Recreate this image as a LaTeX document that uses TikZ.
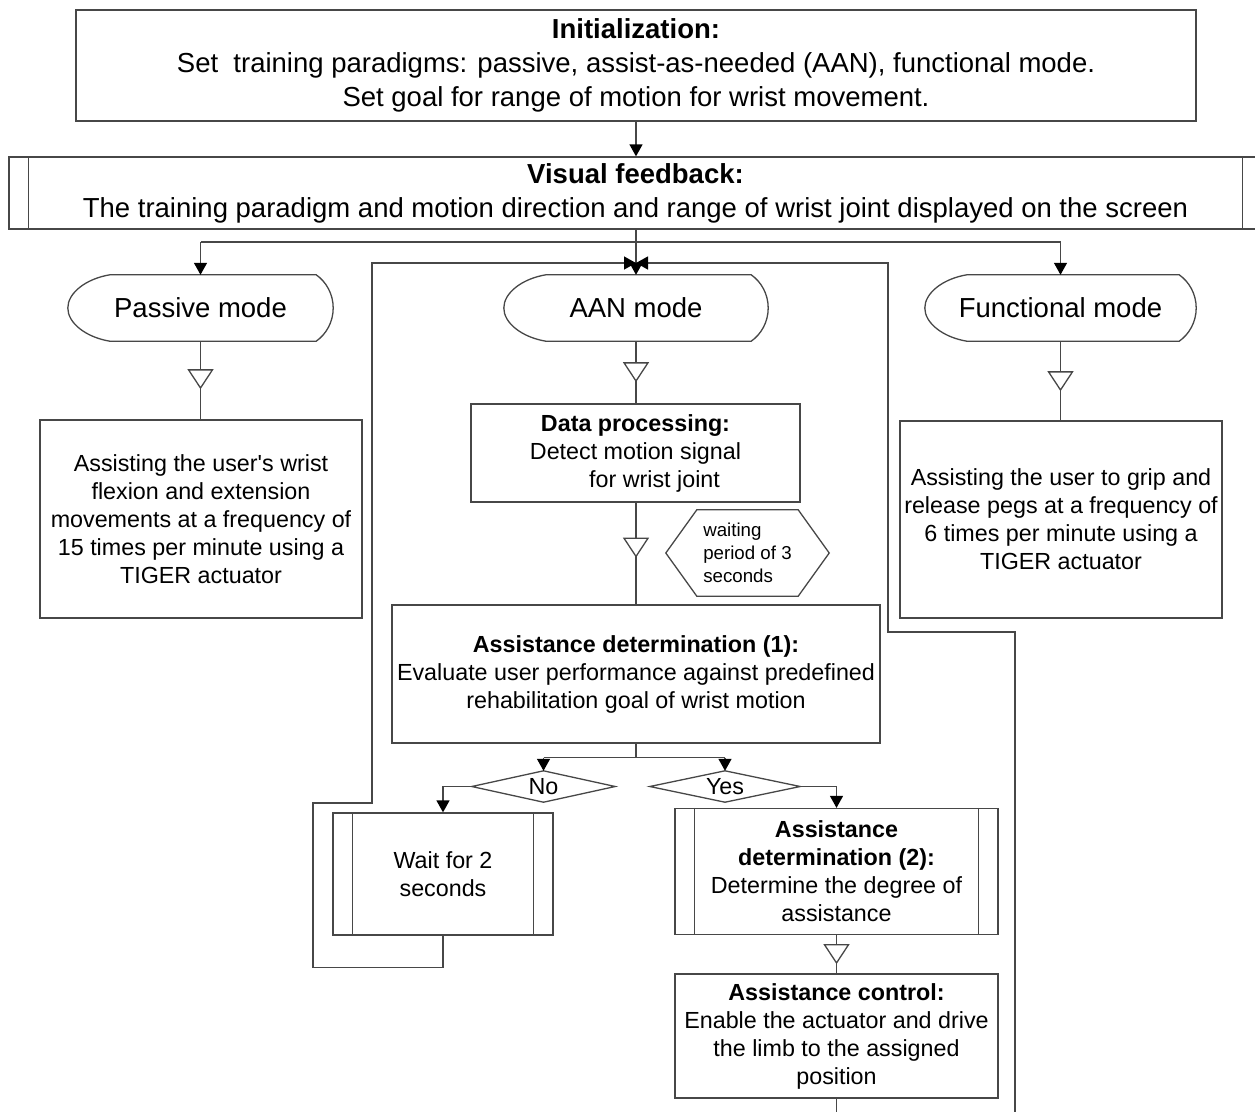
\documentclass[tikz,border=0pt]{standalone}
\usepackage{fontspec}
\setmainfont{Liberation Sans}[Ligatures=TeXOff]
\usetikzlibrary{arrows.meta,decorations.markings,calc}
\newcommand\modeshape[1]{\draw[ln] ($(#1.north west)+(42,0)$) -- ($(#1.north east)+(-17,0)$) .. controls ($(#1.north east)+(-7,7)$) and ($(#1.east)+(0,-14)$) .. (#1.east) .. controls ($(#1.east)+(0,14)$) and ($(#1.south east)+(-7,-7)$) .. ($(#1.south east)+(-17,0)$) -- ($(#1.south west)+(42,0)$) .. controls ($(#1.south west)+(18,-4)$) and ($(#1.west)+(0,15)$) .. (#1.west) .. controls ($(#1.west)+(0,-15)$) and ($(#1.north west)+(18,4)$) .. cycle;}
\newcommand\sidebars[1]{\draw[ln] ($(#1.north west)+(20,0)$) -- ($(#1.south west)+(20,0)$); \draw[ln] ($(#1.north east)+(-20,0)$) -- ($(#1.south east)+(-20,0)$);}
\begin{document}
\begin{tikzpicture}[x=1pt,y=-1pt,
  ln/.style={draw=black!72, line width=1.3pt},
  arr/.style={ln, -{Triangle[width=13pt,length=12pt,black]}},
  tri/.style={postaction={decorate}, decoration={markings, mark=at position #1 with {\arrow{Triangle[width=26pt,length=20pt,fill=white,black!72]}}}},
  box/.style={ln, inner sep=0pt, align=center},
  plain/.style={inner sep=0pt, align=center},
  fbig/.style={font=\fontsize{27.5}{34}\selectfont},
  fmid/.style={font=\fontsize{23.3}{28}\selectfont},
  fsmall/.style={font=\fontsize{18.7}{23}\selectfont}]
\useasboundingbox (0,0) rectangle (1255,1111);
% nodes
\node[box, fbig, minimum width=1120pt, minimum height=111pt] (init) at (636,65.5)
  {\textbf{Initialization:}\\Set~ training paradigms: passive, assist-as-needed (AAN), functional mode.\\Set goal for range of motion for wrist movement.};
\node[box, fbig, minimum width=1253pt, minimum height=72pt] (vf) at (635.5,193)
  {\textbf{Visual feedback:}\\The training paradigm and motion direction and range of wrist joint displayed on the screen};
\sidebars{vf}
\node[plain, fbig, minimum width=265pt, minimum height=66pt] (pm) at (200.5,308) {Passive mode};
\node[plain, fbig, minimum width=264pt, minimum height=66pt] (am) at (636,308) {AAN mode};
\node[plain, fbig, minimum width=271pt, minimum height=66pt] (fm) at (1060.5,308) {Functional mode};
\modeshape{pm}\modeshape{am}\modeshape{fm}
\node[box, fmid, minimum width=322pt, minimum height=198pt] (pb) at (201,519)
  {Assisting the user's wrist\\flexion and extension\\movements at a frequency of\\15 times per minute using a\\TIGER actuator};
\node[box, fmid, minimum width=322pt, minimum height=197pt] (fb) at (1061,519.5)
  {Assisting the user to grip and\\release pegs at a frequency of\\6 times per minute using a\\TIGER actuator};
\node[box, fmid, minimum width=329pt, minimum height=98pt] (dp) at (635.5,453)
  {\textbf{Data processing:}\\Detect motion signal\\\hspace*{38pt}for wrist joint};
\node[plain, fsmall, align=left, minimum width=163pt, minimum height=86pt] (hx) at (747.5,553)
  {waiting\\period of 3\\seconds};
\draw[ln] (hx.west) -- ($(hx.north west)+(31,0)$) -- ($(hx.north east)+(-31,0)$) -- (hx.east) -- ($(hx.south east)+(-31,0)$) -- ($(hx.south west)+(31,0)$) -- cycle;
\node[box, fmid, minimum width=488pt, minimum height=138pt] (ad1) at (636,674)
  {\textbf{Assistance determination (1):}\\Evaluate user performance against predefined\\rehabilitation goal of wrist motion};
\node[plain, fmid, minimum width=143pt, minimum height=31pt] (no) at (543.5,786.5) {No};
\node[plain, fmid, minimum width=150pt, minimum height=31pt] (yes) at (725,786.5) {Yes};
\draw[ln] (no.west) -- (no.north) -- (no.east) -- (no.south) -- cycle;
\draw[ln] (yes.west) -- (yes.north) -- (yes.east) -- (yes.south) -- cycle;
\node[box, fmid, minimum width=220pt, minimum height=122pt] (wait) at (443,874) {Wait for 2\\seconds};
\sidebars{wait}
\node[box, fmid, minimum width=323pt, minimum height=126pt] (ad2) at (836.5,871.5)
  {\textbf{Assistance}\\\textbf{determination (2):}\\Determine the degree of\\assistance};
\sidebars{ad2}
\node[box, fmid, minimum width=323pt, minimum height=124pt] (ac) at (836.5,1036)
  {\textbf{Assistance control:}\\Enable the actuator and drive\\the limb to the assigned\\position};
% coordinates
\coordinate (b1) at (636,242);
\coordinate (join) at (636,263);
\coordinate (rin) at (1015,1116);
% connectors
\draw[arr] (init.south) -- (init.south |- vf.north);
\draw[arr] (init.south |- vf.south) -- (am.north);
\draw[ln] (pm.north |- b1) -- (fm.north |- b1);
\draw[arr] (pm.north |- b1) -- (pm.north);
\draw[arr] (fm.north |- b1) -- (fm.north);
\draw[ln, tri=48pt] (pm.south) -- (pb.north -| pm.south);
\draw[ln, tri=41pt] (am.south) -- (dp.north -| am.south);
\draw[ln, tri=50pt] (fm.south) -- (fb.north -| fm.south);
\draw[ln, tri=55pt] (dp.south -| ad1.north) -- (ad1.north);
\draw[ln] (ad1.south) -- ++(0,14) coordinate (b2);
\draw[ln] (no.north |- b2) -- (yes.north |- b2);
\draw[arr] (no.north |- b2) -- (no.north);
\draw[arr] (yes.north |- b2) -- (yes.north);
\draw[arr] (no.west) -| (wait.north);
\draw[arr] (yes.east) -| (ad2.north);
\draw[ln, tri=29pt] (ad2.south) -- (ac.north);
\draw[ln] (ac.south) -- (ac.south |- rin);
\draw[arr] (wait.south) -- ++(0,32) -| (313,803) -| (372,263) -- (join);
\draw[arr] (rin) |- (888,632) |- (join);
\end{tikzpicture}
\end{document}
